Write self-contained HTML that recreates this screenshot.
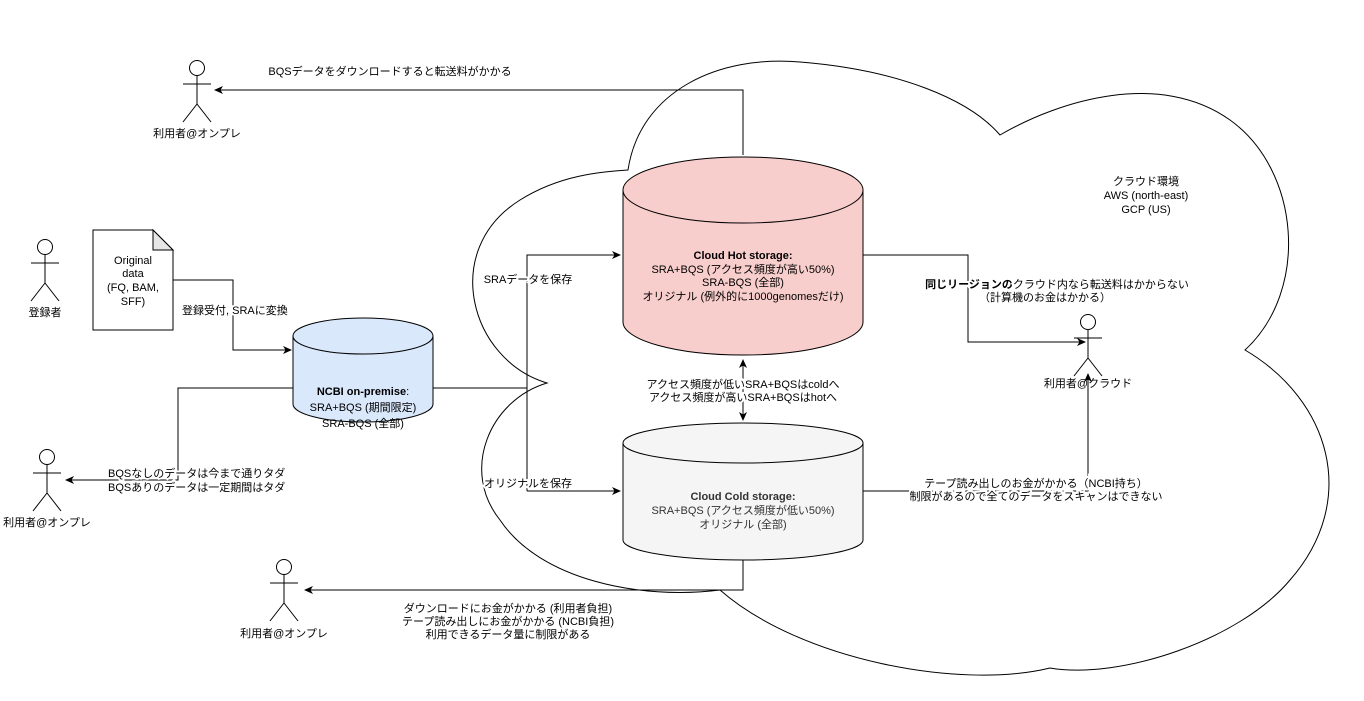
<!DOCTYPE html>
<html><head><meta charset="utf-8"><style>
body{margin:0;background:#fff;}
svg{display:block;font-family:"Liberation Sans","Noto Sans CJK JP",sans-serif;font-size:11px;}
</style></head><body>
<svg width="1364" height="701" viewBox="0 0 1364 701" xmlns="http://www.w3.org/2000/svg">
<defs><marker id="a" markerWidth="10" markerHeight="10" refX="8" refY="5" orient="auto" markerUnits="userSpaceOnUse"><path d="M0,1 L9,5 L0,9 L2.5,5 Z" fill="#000"/></marker></defs>
<!-- cloud -->
<path d="M547,383 C470,360 440,250 520,200 C560,175 600,172 628,170 C640,90 720,55 800,62 C900,70 970,100 1000,135 C1060,100 1160,70 1230,120 C1300,170 1310,290 1245,350 C1330,400 1360,500 1290,580 C1240,640 1120,680 1050,668 C960,690 800,660 720,590 C640,600 540,580 500,520 C460,470 490,400 547,383 Z" fill="#fff" stroke="#000" stroke-width="1"/>
<g fill="none" stroke="#000" stroke-width="1">
<path d="M743,155 V90 H215" marker-end="url(#a)"/>
<path d="M173,280 H233 V350 H291" marker-end="url(#a)"/>
<path d="M293,388 H178 V480 H66" marker-end="url(#a)"/>
<path d="M433,388 H527"/>
<path d="M527,491 V255 H620" marker-end="url(#a)"/>
<path d="M527,491 H620" marker-end="url(#a)"/>
<path d="M863,255 H968 V342 H1085" marker-end="url(#a)"/>
<path d="M863,491 H1088 V374" marker-end="url(#a)"/>
<path d="M743,560 V590 H305" marker-end="url(#a)"/>
<path d="M743,370 V420" marker-end="url(#a)"/>
<path d="M743,380 V360" marker-end="url(#a)"/>
</g>
<path d="M623,190 A120,33 0 0 1 863,190 V322 A120,33 0 0 1 623,322 Z" fill="#f8cecc" stroke="#000"/>
<path d="M623,190 A120,33 0 0 0 863,190" fill="none" stroke="#000"/>
<path d="M623,443 A120,20 0 0 1 863,443 V540 A120,20 0 0 1 623,540 Z" fill="#f5f5f5" stroke="#000"/>
<path d="M623,443 A120,20 0 0 0 863,443" fill="none" stroke="#000"/>
<path d="M293,336 A70,18 0 0 1 433,336 V404 A70,18 0 0 1 293,404 Z" fill="#dae8fc" stroke="#000"/>
<path d="M293,336 A70,18 0 0 0 433,336" fill="none" stroke="#000"/>
<path d="M93,230 H153 L173,250 V330 H93 Z" fill="#fff" stroke="#000"/>
<path d="M153,230 V250 H173 Z" fill="#e6e6e6" stroke="#000"/>
<g fill="#fff" stroke="#000">
<g transform="translate(197,60)"><circle cx="0" cy="8" r="7.5"/><path d="M0,16 V44 M-14,24 H14 M0,44 L-14,62 M0,44 L14,62" fill="none"/></g>
<g transform="translate(45,239)"><circle cx="0" cy="8" r="7.5"/><path d="M0,16 V44 M-14,24 H14 M0,44 L-14,62 M0,44 L14,62" fill="none"/></g>
<g transform="translate(47,449)"><circle cx="0" cy="8" r="7.5"/><path d="M0,16 V44 M-14,24 H14 M0,44 L-14,62 M0,44 L14,62" fill="none"/></g>
<g transform="translate(284,559)"><circle cx="0" cy="8" r="7.5"/><path d="M0,16 V44 M-14,24 H14 M0,44 L-14,62 M0,44 L14,62" fill="none"/></g>
<g transform="translate(1088,314)"><circle cx="0" cy="8" r="7.5"/><path d="M0,16 V44 M-14,24 H14 M0,44 L-14,62 M0,44 L14,62" fill="none"/></g>
</g>
<g text-anchor="middle" fill="#000">
<text x="197" y="137">利用者@オンプレ</text>
<text x="45" y="316">登録者</text>
<text x="47" y="526">利用者@オンプレ</text>
<text x="284" y="637">利用者@オンプレ</text>
<text x="1088" y="387">利用者@クラウド</text>
<text x="133" y="264">Original</text>
<text x="133" y="277">data</text>
<text x="133" y="291">(FQ, BAM,</text>
<text x="133" y="305">SFF)</text>
<text x="390" y="75">BQSデータをダウンロードすると転送料がかかる</text>
<text x="182" y="314" text-anchor="start" style="paint-order:stroke" stroke="#fff" stroke-width="4">登録受付, SRAに変換</text>
<text x="108" y="477" text-anchor="start" style="paint-order:stroke" stroke="#fff" stroke-width="4">BQSなしのデータは今まで通りタダ</text>
<text x="108" y="491" text-anchor="start" style="paint-order:stroke" stroke="#fff" stroke-width="4">BQSありのデータは一定期間はタダ</text>
<text x="363" y="395"><tspan font-weight="bold">NCBI on-premise</tspan>:</text>
<text x="363" y="411">SRA+BQS (期間限定)</text>
<text x="363" y="427">SRA-BQS (全部)</text>
<text x="528" y="283" style="paint-order:stroke" stroke="#fff" stroke-width="4">SRAデータを保存</text>
<text x="528" y="487" style="paint-order:stroke" stroke="#fff" stroke-width="4">オリジナルを保存</text>
<text x="743" y="259" font-weight="bold">Cloud Hot storage:</text>
<text x="743" y="273">SRA+BQS (アクセス頻度が高い50%)</text>
<text x="743" y="286">SRA-BQS (全部)</text>
<text x="743" y="300">オリジナル (例外的に1000genomesだけ)</text>
<text x="743" y="388" style="paint-order:stroke" stroke="#fff" stroke-width="4">アクセス頻度が低いSRA+BQSはcoldへ</text>
<text x="743" y="401" style="paint-order:stroke" stroke="#fff" stroke-width="4">アクセス頻度が高いSRA+BQSはhotへ</text>
<g fill="#333"><text x="743" y="500" font-weight="bold">Cloud Cold storage:</text>
<text x="743" y="514">SRA+BQS (アクセス頻度が低い50%)</text>
<text x="743" y="528">オリジナル (全部)</text></g>
<text x="1057" y="288" style="paint-order:stroke" stroke="#fff" stroke-width="4"><tspan font-weight="bold">同じリージョンの</tspan>クラウド内なら転送料はかからない</text>
<text x="1045" y="301" style="paint-order:stroke" stroke="#fff" stroke-width="4">（計算機のお金はかかる）</text>
<text x="1036" y="487" style="paint-order:stroke" stroke="#fff" stroke-width="4">テープ読み出しのお金がかかる（NCBI持ち）</text>
<text x="1036" y="500" style="paint-order:stroke" stroke="#fff" stroke-width="4">制限があるので全てのデータをスキャンはできない</text>
<text x="1146" y="185">クラウド環境</text>
<text x="1146" y="199">AWS (north-east)</text>
<text x="1146" y="213">GCP (US)</text>
<text x="508" y="612">ダウンロードにお金がかかる (利用者負担)</text>
<text x="508" y="625">テープ読み出しにお金がかかる (NCBI負担)</text>
<text x="508" y="638">利用できるデータ量に制限がある</text>
</g>
</svg>
</body></html>
